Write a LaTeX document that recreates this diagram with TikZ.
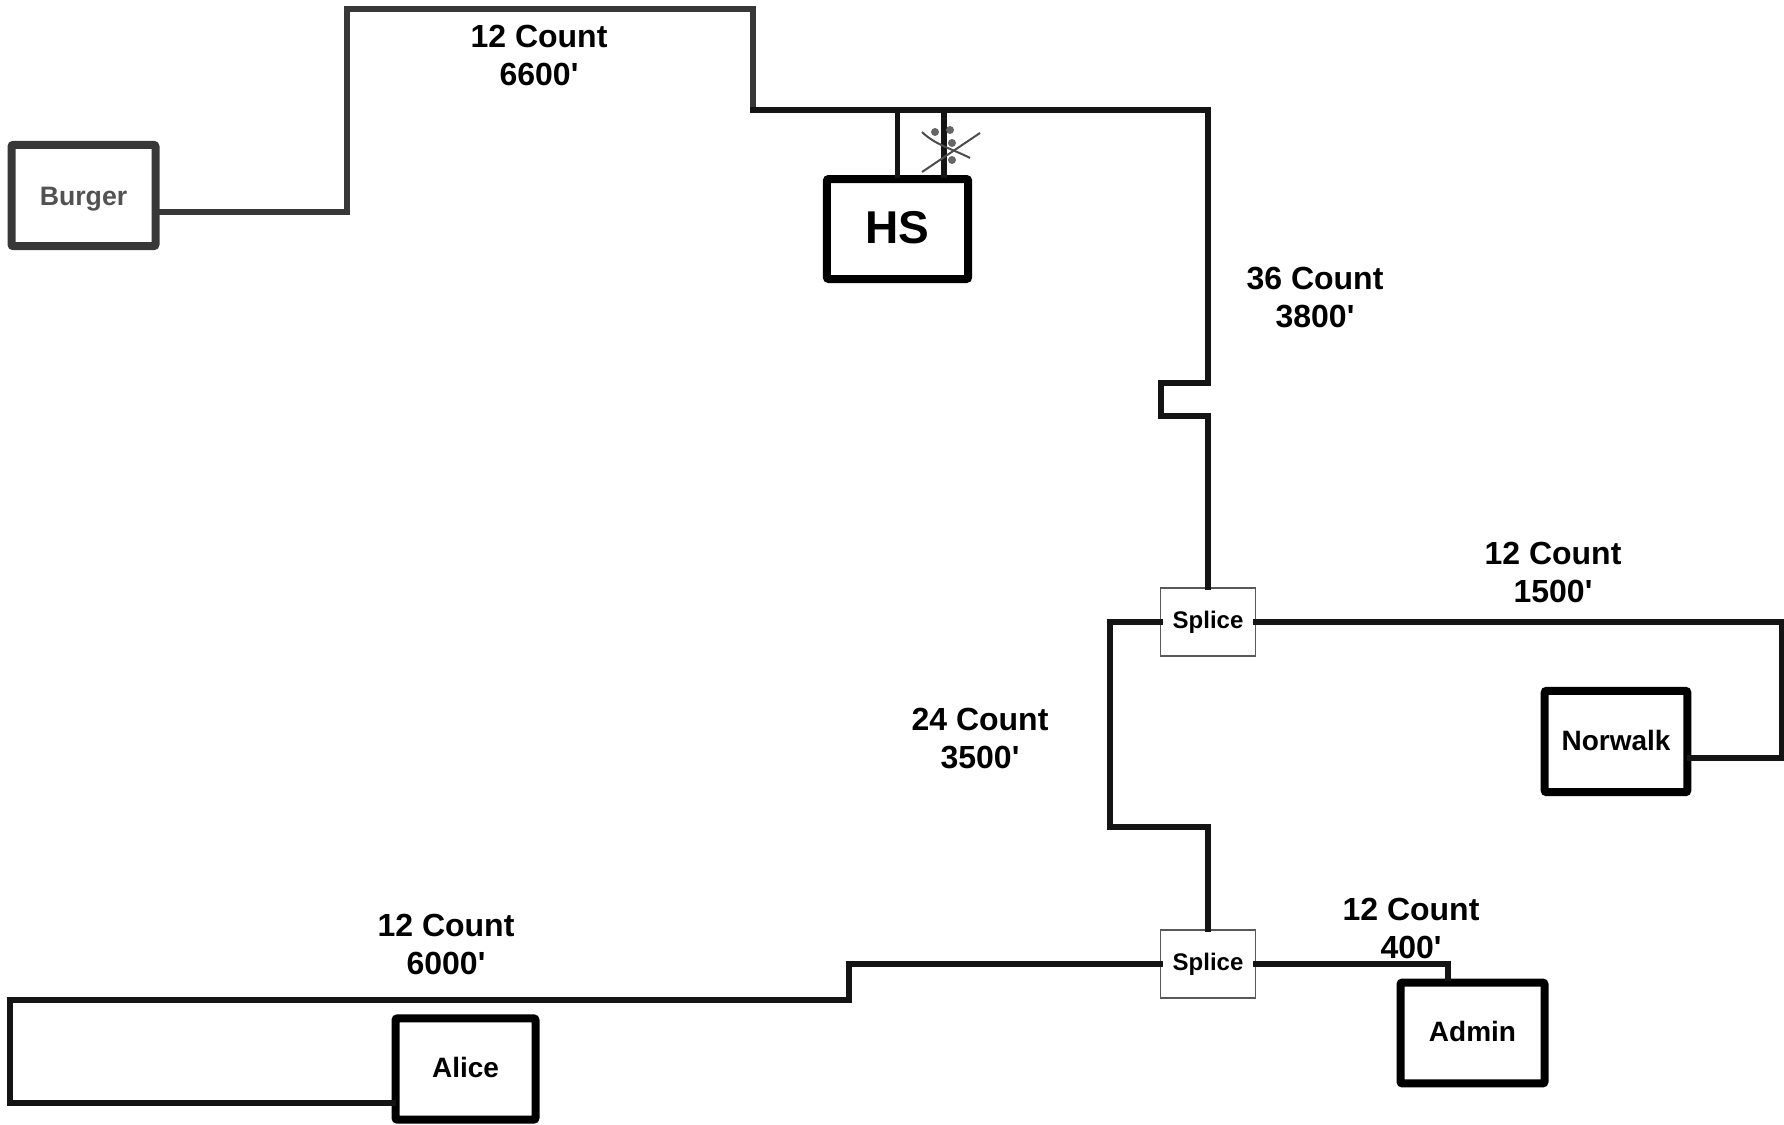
\documentclass[tikz,border=0pt]{standalone}
\usepackage{fontspec}
\newfontfamily\labelfont{Liberation Sans}

\begin{document}
\begin{tikzpicture}[x=0.75pt,y=0.75pt,yscale=-1,xscale=1,
  cable/.style={line width=4pt,line cap=rect,color=black!92},
  site/.style={draw=black,line width=6pt,rounded corners=1.5pt,fill=white,text height=15pt,text depth=2pt,font=\labelfont\bfseries\fontsize{21}{25}\selectfont},
  splicebox/.style={draw=black!65,line width=0.8pt,fill=white,minimum width=71pt,minimum height=51pt,font=\labelfont\bfseries\fontsize{18}{22}\selectfont},
  countlabel/.style={align=center,font=\labelfont\bfseries\fontsize{24}{28.5}\selectfont}]
\useasboundingbox (0,0) rectangle (1784,1124);

% Sites
\node [site,draw=black!78,text=black!68,text height=14.4pt,text depth=0pt,minimum width=108pt,minimum height=76pt,font=\labelfont\bfseries\fontsize{20}{24}\selectfont] (burger) at (83.5,195.5) {Burger};
\node [site,text height=24.8pt,text depth=3pt,minimum width=106pt,minimum height=75pt,font=\labelfont\bfseries\fontsize{34.5}{40}\selectfont] (hs) at (897.5,229) {HS};
\node [site,minimum width=107pt,minimum height=76pt] (norwalk) at (1616,741.5) {Norwalk};
\node [site,minimum width=108pt,minimum height=75.7pt] (admin) at (1472.5,1033) {Admin};
\node [site,minimum width=105pt,minimum height=76pt] (alice) at (465.5,1069) {Alice};

% Splices
\node [splicebox] (spliceA) at (1208,622) {Splice};
\node [splicebox] (spliceB) at (1208,964) {Splice};

% Bends
\coordinate (burgerOut) at (159,212);
\coordinate (topBend) at (753,110);
\coordinate (hsTee) at (897.5,110);
\coordinate (stubTop) at (944,110);
\coordinate (stubEnd) at (944,175);
\coordinate (norwalkOut) at (1690,758);
\coordinate (aliceOut) at (393,1103);
\coordinate (adminIn) at (1448,978);

% Cables
\draw [cable,color=black!78] (burgerOut) -- (347,212) -- (347,9) -- (753,9) -- (topBend);
\draw [cable] (topBend) -- (1208,110) -- (1208,383) -- (1161,383) -- (1161,416) -- (1208,416) -- (spliceA.north);
\draw [cable] (hsTee) -- (hs.north);
\draw [cable] (stubTop) -- (stubEnd);
\draw [cable] (spliceA.east) -- (1782,622) -- (1782,758) -- (norwalkOut);
\draw [cable] (spliceA.west) -- (1110,622) -- (1110,827) -- (1208,827) -- (spliceB.north);
\draw [cable] (spliceB.east) -- (1448,964) -- (adminIn);
\draw [cable] (spliceB.west) -- (849,964) -- (849,1000) -- (10,1000) -- (10,1103) -- (aliceOut);

% Crossed out stub
\draw [black!70,line width=1.5pt] (922,132) .. controls (935,145) and (955,150) .. (970,158);
\draw [black!70,line width=1.5pt] (980,133) -- (922,172);
\fill [black!60] (935,132) circle (4) (950,130) circle (4) (952,143) circle (4) (952,160) circle (4);

% Text Node
\node [countlabel] (labelBurger) at (539,55) {12 Count\\6600'};
\node [countlabel] (labelTrunk) at (1315,298) {36 Count\\3800'};
\node [countlabel] (labelNorwalk) at (1553,572) {12 Count\\1500'};
\node [countlabel] (labelMid) at (980,738) {24 Count\\3500'};
\node [countlabel] (labelAlice) at (446,944) {12 Count\\6000'};
\node [countlabel] (labelAdmin) at (1411,928) {12 Count\\400'};

\end{tikzpicture}
\end{document}
